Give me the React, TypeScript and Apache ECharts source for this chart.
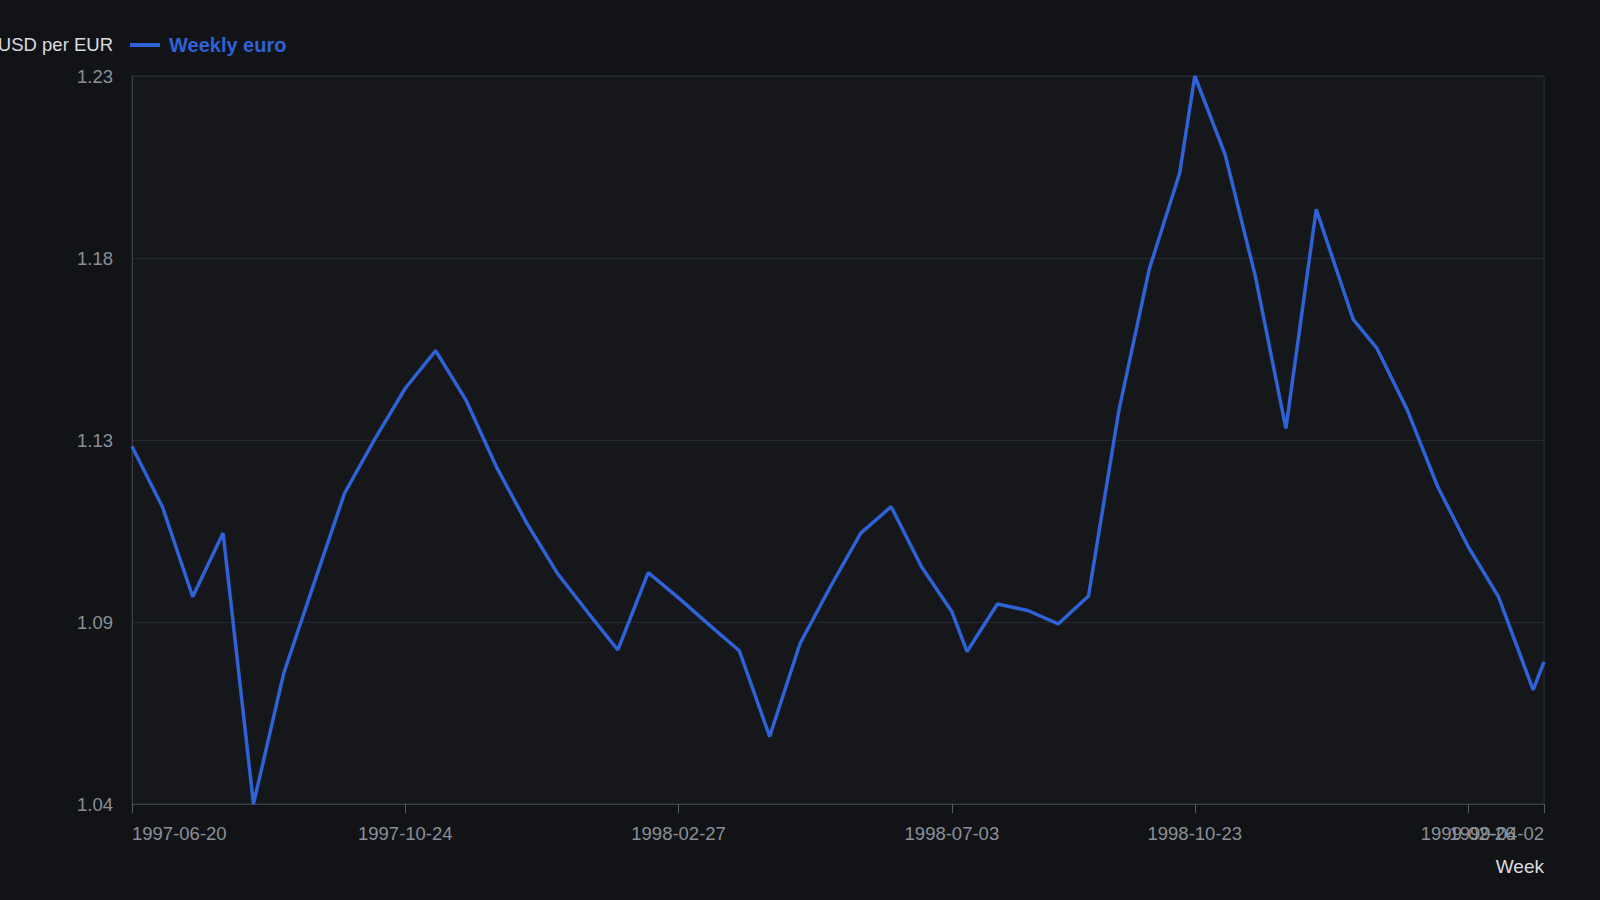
import React, { useEffect, useRef } from 'react';
import * as echarts from 'echarts';

// weekly USD per EUR quotes
const weekDates: string[] = [
  '1997-06-20', '1997-07-04', '1997-07-18', '1997-08-01', '1997-08-15', '1997-08-29',
  '1997-09-12', '1997-09-26', '1997-10-10', '1997-10-24', '1997-11-07', '1997-11-21',
  '1997-12-05', '1997-12-19', '1998-01-02', '1998-01-16', '1998-01-30', '1998-02-13',
  '1998-02-27', '1998-03-13', '1998-03-27', '1998-04-10', '1998-04-24', '1998-05-08',
  '1998-05-22', '1998-06-05', '1998-06-19', '1998-07-03', '1998-07-10', '1998-07-24',
  '1998-08-07', '1998-08-21', '1998-09-04', '1998-09-18', '1998-10-02', '1998-10-16',
  '1998-10-23', '1998-11-06', '1998-11-20', '1998-12-04', '1998-12-18', '1999-01-04',
  '1999-01-15', '1999-01-29', '1999-02-12', '1999-02-26', '1999-03-12', '1999-03-28',
  '1999-04-02',
];

const usdPerEur: number[] = [
  1.1333, 1.1176, 1.0941, 1.1107, 1.04, 1.0742,
  1.0977, 1.1211, 1.1353, 1.1485, 1.1583, 1.1454,
  1.128, 1.1133, 1.1003, 1.0901, 1.0802, 1.1004,
  1.0938, 1.0868, 1.08, 1.0576, 1.0819, 1.0967,
  1.1107, 1.1176, 1.1019, 1.0902, 1.0798, 1.0922,
  1.0905, 1.087, 1.0943, 1.1427, 1.1796, 1.2046,
  1.23, 1.2095, 1.1775, 1.138, 1.1952, 1.1665,
  1.1589, 1.1428, 1.1228, 1.1072, 1.0941, 1.0698,
  1.0771,
];

// tick dates on the week axis; the last one sits at the axis end
const xTickDates: string[] = [
  '1997-06-20', '1997-10-24', '1998-02-27', '1998-07-03', '1998-10-23', '1999-02-26',
];
const xEndTickDate = '1999-04-02';

const yTicks: number[] = [1.04, 1.0875, 1.135, 1.1825, 1.23];
const yTickLabels: string[] = ['1.04', '1.09', '1.13', '1.18', '1.23'];

const FONT = '"Liberation Sans", Arial, sans-serif';
const BLUE = '#2f62d6';
const LABEL_GREY = '#8b9098';

const pad = (n: number) => (n < 10 ? '0' + n : '' + n);
const toTime = (s: string) => {
  const [y, m, d] = s.split('-').map(Number);
  return new Date(y, m - 1, d).getTime();
};
const fmtDate = (v: number) => {
  const d = new Date(v);
  return d.getFullYear() + '-' + pad(d.getMonth() + 1) + '-' + pad(d.getDate());
};

const App: React.FC = () => {
  const chartRef = useRef<HTMLDivElement>(null);

  useEffect(() => {
    if (!chartRef.current) return;
    const myChart = echarts.init(chartRef.current, null, { renderer: 'svg' });
    const xTicks = xTickDates.map(toTime);
    const xMin = toTime(weekDates[0]);
    const xMax = toTime(weekDates[weekDates.length - 1]);

    const labelBase = {
      color: LABEL_GREY,
      fontSize: 18.5,
      fontFamily: FONT,
      margin: 20,
      formatter: (v: number) => fmtDate(v),
    };

    const option = {
      animation: false,
      backgroundColor: '#111317',
      textStyle: { fontFamily: FONT },
      legend: {
        left: 130,
        top: 35,
        padding: 0,
        itemWidth: 30,
        itemHeight: 4,
        icon: 'rect',
        data: ['Weekly euro'],
        textStyle: {
          color: BLUE,
          fontSize: 20,
          fontWeight: 'bold',
          fontFamily: FONT,
          padding: [0, 0, 0, 4],
        },
      },
      grid: {
        left: 132,
        right: 56,
        top: 76,
        bottom: 96,
        outerBoundsMode: 'none',
        containLabel: false,
        show: true,
        backgroundColor: '#15171b',
        borderColor: '#2b2e34',
        borderWidth: 1,
      },
      xAxis: [
        {
          type: 'value',
          position: 'bottom',
          min: xMin,
          max: xMax,
          name: 'Week',
          nameLocation: 'end',
          nameGap: 0,
          nameTextStyle: {
            color: '#dcdde0',
            fontSize: 19,
            fontFamily: FONT,
            align: 'right',
            verticalAlign: 'top',
            padding: [53, 0, 0, 0],
          },
          axisLine: { show: true, lineStyle: { color: '#3a3d44', width: 1 } },
          axisTick: {
            show: true,
            length: 9,
            customValues: xTicks,
            lineStyle: { color: '#5a5e66' },
          },
          axisLabel: {
            ...labelBase,
            customValues: xTicks,
            showMinLabel: true,
            alignMinLabel: 'left',
          },
          splitLine: { show: false },
        },
        {
          // end-of-axis date, kept on its own so it may overlap its neighbour as in the reference
          type: 'value',
          position: 'bottom',
          min: xMin,
          max: xMax,
          axisLine: { show: false },
          axisTick: {
            show: true,
            length: 9,
            customValues: [toTime(xEndTickDate)],
            lineStyle: { color: '#5a5e66' },
          },
          axisLabel: {
            ...labelBase,
            customValues: [toTime(xEndTickDate)],
            align: 'right',
            alignMinLabel: 'right',
            alignMaxLabel: 'right',
          },
          splitLine: { show: false },
        },
      ],
      yAxis: {
        type: 'value',
        min: yTicks[0],
        max: yTicks[yTicks.length - 1],
        name: 'USD per EUR',
        nameLocation: 'end',
        nameGap: 32,
        nameTextStyle: {
          color: '#dcdde0',
          fontSize: 18.5,
          fontFamily: FONT,
          align: 'right',
          verticalAlign: 'middle',
          padding: [0, 19, 0, 0],
        },
        axisLine: { show: true, lineStyle: { color: '#3a3d44', width: 1 } },
        axisTick: { show: false, customValues: yTicks },
        axisLabel: {
          customValues: yTicks,
          color: LABEL_GREY,
          fontSize: 18.5,
          fontFamily: FONT,
          margin: 19,
          showMinLabel: true,
          showMaxLabel: true,
          formatter: (v: number) => {
            let best = 0;
            yTicks.forEach((t, i) => {
              if (Math.abs(t - v) < Math.abs(yTicks[best] - v)) best = i;
            });
            return yTickLabels[best];
          },
        },
        splitLine: { show: true, lineStyle: { color: '#262a30', width: 1 } },
      },
      series: [
        {
          name: 'Weekly euro',
          type: 'line',
          xAxisIndex: 0,
          showSymbol: false,
          symbol: 'none',
          data: weekDates.map((d, i) => [toTime(d), usdPerEur[i]]),
          lineStyle: { color: BLUE, width: 3.5 },
          itemStyle: { color: BLUE },
        },
      ],
    };

    myChart.setOption(option);
    const resizeHandler = () => myChart.resize();
    window.addEventListener('resize', resizeHandler);
    return () => {
      window.removeEventListener('resize', resizeHandler);
      myChart.dispose();
    };
  }, []);

  return (
    <div
      ref={chartRef}
      style={{ position: 'fixed', left: 0, top: 0, width: '1600px', height: '900px' }}
    />
  );
};

export default App;
